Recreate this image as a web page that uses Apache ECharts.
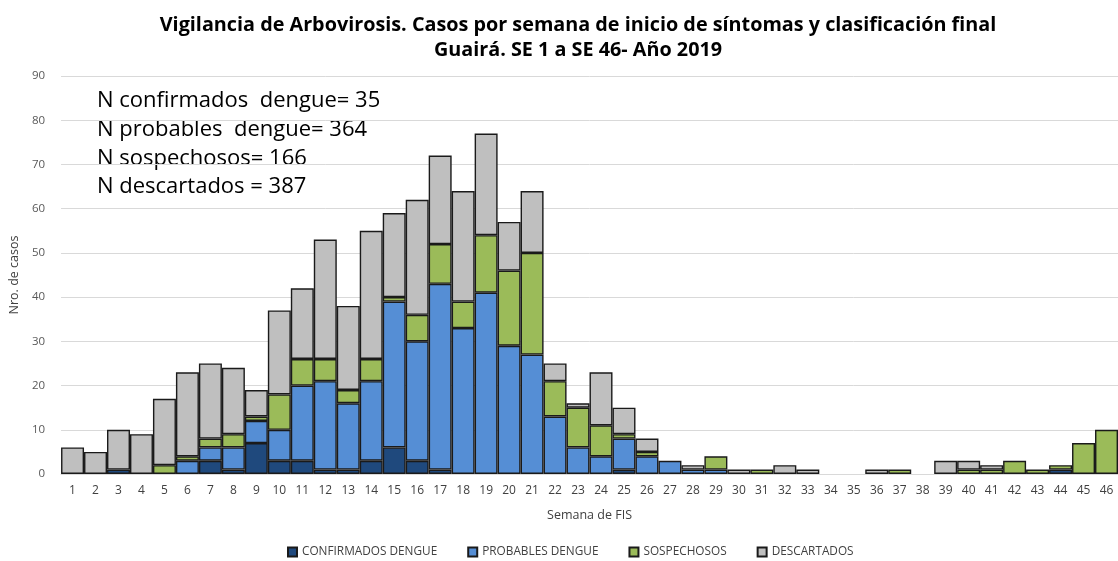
<!DOCTYPE html>
<html>
<head>
<meta charset="utf-8">
<script src="https://cdn.jsdelivr.net/npm/echarts@6/dist/echarts.min.js"></script>
<style>
  html, body { margin: 0; padding: 0; background: #fff; }
  #chart { width: 1118px; height: 561px; }
</style>
</head>
<body>
<div id="chart"></div>
<script>
const weeks = Array.from({ length: 46 }, (_, i) => String(i + 1))

const confirmados = [0,0,1,0,0,0,3,1,7,3,3,1,1,3,6,3,1,0,0,0,0,0,0,0,1,0,0,0,0,0,0,0,0,0,0,0,0,0,0,0,0,0,0,1,0,0]
const probables   = [0,0,0,0,0,3,3,5,5,7,17,20,15,18,33,27,42,33,41,29,27,13,6,4,7,4,3,1,1,0,0,0,0,0,0,0,0,0,0,0,0,0,0,0,0,0]
const sospechosos = [0,0,0,0,2,1,2,3,1,8,6,5,3,5,1,6,9,6,13,17,23,8,9,7,1,1,0,0,3,0,1,0,0,0,0,0,1,0,0,1,1,3,1,1,7,10]
const descartados = [6,5,9,9,15,19,17,15,6,19,16,27,19,29,19,26,20,25,23,11,14,4,1,12,6,3,0,1,0,1,0,2,1,0,0,1,0,0,3,2,1,0,0,0,0,0]

const notes = [
  'N confirmados  dengue= 35',
  'N probables  dengue= 364',
  'N sospechosos= 166',
  'N descartados = 387'
]

const chart = echarts.init(document.getElementById('chart'))

// zero-height bars would still show their border, so leave them out
const noZero = (arr) => arr.map(v => (v === 0 ? '-' : v))

const barStyle = (color) => ({
  color: color,
  borderColor: '#1a1a1a',
  borderWidth: 1.4
})

const option = {
  animation: false,
  textStyle: { fontFamily: 'Open Sans' },
  title: {
    text: 'Vigilancia de Arbovirosis. Casos por semana de inicio de síntomas y clasificación final\nGuairá. SE 1 a SE 46- Año 2019',
    left: 573,
    textAlign: 'center',
    top: 8,
    textStyle: {
      fontFamily: 'Open Sans',
      fontWeight: 'bold',
      fontSize: 19.8,
      lineHeight: 25,
      color: '#000'
    }
  },
  legend: {
    top: 541,
    left: 282,
    icon: 'rect',
    itemWidth: 9,
    itemHeight: 9,
    itemGap: 30,
    textStyle: { fontSize: 11.8, color: '#404040' },
    data: ['CONFIRMADOS DENGUE', 'PROBABLES DENGUE', 'SOSPECHOSOS', 'DESCARTADOS']
  },
  grid: { left: 58, right: 0, top: 76, bottom: 87 },
  xAxis: {
    type: 'category',
    data: weeks,
    name: 'Semana de FIS',
    nameLocation: 'middle',
    nameGap: 35,
    nameTextStyle: { fontSize: 12.5, color: '#404040' },
    axisLine: { lineStyle: { color: '#d9d9d9', width: 1 } },
    axisTick: { show: false },
    axisLabel: { fontSize: 12, color: '#404040', interval: 0, margin: 11 }
  },
  yAxis: {
    type: 'value',
    min: 0,
    max: 90,
    interval: 10,
    name: 'Nro. de casos',
    nameLocation: 'middle',
    nameGap: 33,
    nameTextStyle: { fontSize: 12.5, color: '#404040' },
    axisLine: { show: false },
    axisTick: { show: false },
    axisLabel: { fontSize: 11.5, color: '#595959', margin: 16 },
    splitLine: { lineStyle: { color: '#d9d9d9', width: 1 } }
  },
  graphic: notes.map((t, i) => ({
    type: 'text',
    left: 97,
    top: 90 + i * 28.7,
    style: { text: t, fontSize: 22, fill: '#000', fontFamily: 'Open Sans' }
  })),
  series: [
    { name: 'CONFIRMADOS DENGUE', type: 'bar', stack: 'a', barCategoryGap: '0%', data: noZero(confirmados), itemStyle: barStyle('#1f497d') },
    { name: 'PROBABLES DENGUE', type: 'bar', stack: 'a', data: noZero(probables), itemStyle: barStyle('#558ed5') },
    { name: 'SOSPECHOSOS', type: 'bar', stack: 'a', data: noZero(sospechosos), itemStyle: barStyle('#9bbb59') },
    { name: 'DESCARTADOS', type: 'bar', stack: 'a', data: noZero(descartados), itemStyle: barStyle('#bfbfbf') }
  ]
}

option && chart.setOption(option)
</script>
</body>
</html>
